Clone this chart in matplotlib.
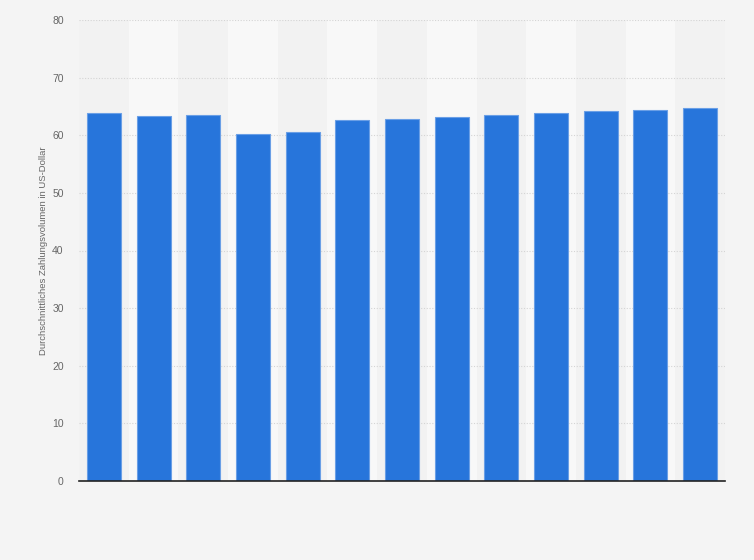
import numpy as np
import matplotlib
matplotlib.use('Agg')
import matplotlib.pyplot as plt

plt.rcParams['font.family'] = ['Liberation Sans', 'DejaVu Sans']

########## Data (no category labels shown) ##########
categories = [str(i) for i in range(1, 14)]
values = [63.9, 63.3, 63.5, 60.2, 60.5, 62.6, 62.8, 63.1, 63.5, 63.9, 64.2, 64.4, 64.7]
y_ticks = [0, 10, 20, 30, 40, 50, 60, 70, 80]
y_label = 'Durchschnittliches Zahlungsvolumen in US-Dollar'

########## Figure ##########
fig = plt.figure(figsize=(7.54, 5.60), dpi=100, facecolor='#f4f4f4')
ax = fig.add_axes([79 / 754, 79 / 560, 646 / 754, 461 / 560])
ax.set_facecolor('#f2f2f2')

x = np.arange(len(categories))
# alternating column bands
for i in x:
    if i % 2 == 1:
        ax.axvspan(i - 0.5, i + 0.5, color='#f8f8f8', zorder=0, lw=0)

ax.bar(x, values, width=0.685, color='#2775db', edgecolor='#6a9fe6',
       linewidth=0.8, zorder=3)

ax.set_xlim(-0.5, len(categories) - 0.5)
ax.set_ylim(0, 80)
ax.set_yticks(y_ticks)
ax.set_xticks([])
ax.grid(axis='y', color='#d4d4d4', linestyle=(0, (1, 1.5)), linewidth=0.8, zorder=1)

for side in ['top', 'right', 'left']:
    ax.spines[side].set_visible(False)
ax.spines['bottom'].set_color('#222222')
ax.spines['bottom'].set_linewidth(1.2)
ax.spines['bottom'].set_zorder(4)

ax.tick_params(axis='y', length=0, pad=11, labelsize=7.5, labelcolor='#666666')
ax.set_ylabel(y_label, fontsize=6.8, color='#666666', labelpad=3)

fig.savefig('out.png', dpi=100, facecolor=fig.get_facecolor())
